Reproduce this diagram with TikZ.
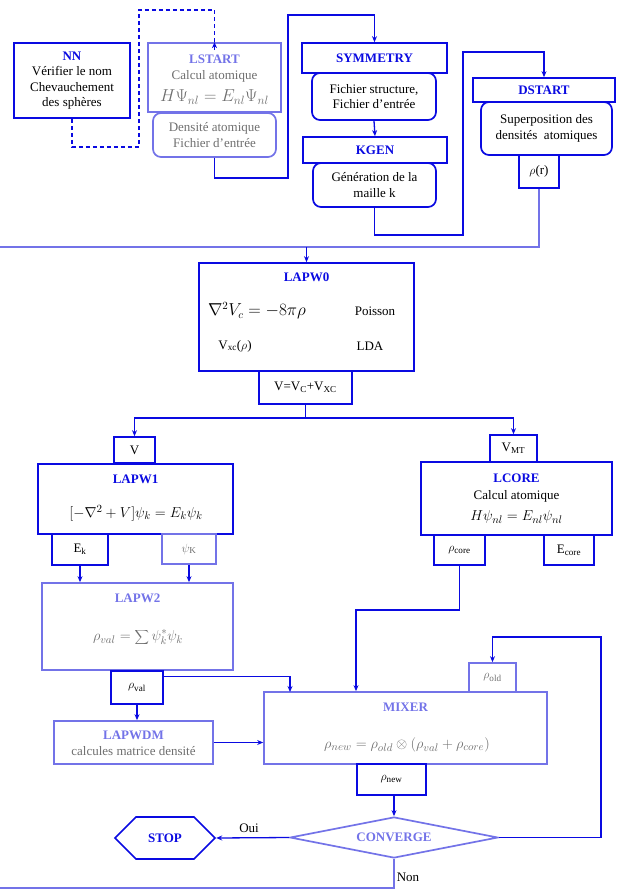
\documentclass[tikz,border=0pt]{standalone}
\usepackage{fontspec}
\setmainfont{Liberation Serif}
\usetikzlibrary{arrows.meta,shapes.geometric,shapes.symbols}

\definecolor{wienblue}{RGB}{10,10,225}
\definecolor{wienlight}{RGB}{115,115,232}
\definecolor{wiengray}{RGB}{110,110,110}

\tikzset{
  box/.style={draw=wienblue, line width=1.7pt, inner sep=0pt},
  lbox/.style={draw=wienlight, line width=1.7pt, inner sep=0pt},
  rbox/.style={box, rounded corners=8pt},
  lrbox/.style={lbox, rounded corners=8pt},
  title/.style={font=\bfseries, text=wienblue},
  ltitle/.style={font=\bfseries, text=wienlight},
  eqn/.style={font=\fontsize{15}{17}\selectfont},
  wire/.style={draw=wienblue, line width=1.3pt},
  lwire/.style={draw=wienlight, line width=1.6pt},
  flow/.style={wire, -{Stealth[length=6pt,width=5pt]}},
  dashwire/.style={wire, line width=1.4pt, dash pattern=on 4pt off 3pt}
}

\begin{document}
\fontsize{13}{15.5}\selectfont
\begin{tikzpicture}[x=1pt, y=-1pt]
        \useasboundingbox (0,0) rectangle (616,896);

        % Initialisation
        \node[box, minimum width=116pt, minimum height=75pt, align=center] (nn) at (72,80.5)
            {\textcolor{wienblue}{\textbf{NN}}\\Vérifier le nom\\Chevauchement\\des sphères};
        \node[lbox, minimum width=133pt, minimum height=69pt] (lstart) at (214.5,77.5) {};
        \node[ltitle] (lstartT) at (214.5,59) {LSTART};
        \node[text=wiengray] (lstartA) at (214.5,76) {Calcul atomique};
        \node[text=wiengray, font=\fontsize{17}{19}\selectfont] (lstartE) at (214.5,97) {$H\Psi_{nl} = E_{nl}\Psi_{nl}$};
        \node[lrbox, minimum width=123pt, minimum height=44pt, align=center, text=wiengray] (lstartsub) at (214.5,135)
            {Densité atomique\\Fichier d’entrée};

        \node[box, minimum width=145pt, minimum height=30pt, title] (sym) at (374.5,58) {SYMMETRY};
        \node[rbox, minimum width=124pt, minimum height=47pt, align=center] (symsub) at (374,96.5)
            {Fichier structure,\\Fichier d’entrée};
        \node[box, minimum width=144pt, minimum height=26pt, title] (kgen) at (375,150) {KGEN};
        \node[rbox, minimum width=123pt, minimum height=44pt, align=center] (kgensub) at (374.5,185)
            {Génération de la\\maille k};

        \node[box, minimum width=142pt, minimum height=24pt, title] (dstart) at (544,90) {DSTART};
        \node[rbox, minimum width=131pt, minimum height=53pt, align=center] (dstartsub) at (546.5,128.5)
            {Superposition des\\densités\ \ atomiques};
        \node[box, minimum width=40pt, minimum height=33pt] (rhor) at (539,171.5) {$\rho$(r)};

        % Potentiel
        \node[box, minimum width=215pt, minimum height=108pt] (lapw0) at (306.5,317) {};
        \node[title] (lapw0T) at (306.5,277) {LAPW0};
        \node[font=\fontsize{16}{18}\selectfont] (poisE) at (257,311) {$\nabla^2 V_c = -8\pi\rho$};
        \node (poisT) at (375,311) {Poisson};
        \node (vxc) at (235,346) {V$_\mathrm{xc}$($\rho$)};
        \node (lda) at (370,346) {LDA};
        \node[box, minimum width=93pt, minimum height=33pt] (vtot) at (305.5,387.5) {V=V$_\mathrm{C}$+V$_\mathrm{XC}$};

        % Valence et coeur
        \node[box, minimum width=41pt, minimum height=26pt] (v) at (134.5,450) {V};
        \node[box, minimum width=195pt, minimum height=70pt] (lapw1) at (135.5,499) {};
        \node[title] (lapw1T) at (135.5,479) {LAPW1};
        \node[eqn] (lapw1E) at (136,513) {$\bigl[-\nabla^2 + V\bigr]\psi_k = E_k\psi_k$};
        \node[box, minimum width=56pt, minimum height=31pt] (ek) at (80,549.5) {E$_\mathrm{k}$};
        \node[lbox, minimum width=54pt, minimum height=30pt, text=wiengray] (psik) at (189,549) {$\psi_\mathrm{K}$};

        \node[lbox, minimum width=191pt, minimum height=87pt] (lapw2) at (137.5,626.5) {};
        \node[ltitle] (lapw2T) at (137.5,598) {LAPW2};
        \node[eqn, text=wiengray] (lapw2E) at (138,637) {$\displaystyle\rho_{val} = \sum\psi_k^*\psi_k$};
        \node[box, minimum width=52pt, minimum height=33pt] (rhoval) at (137,687.5) {$\rho_\mathrm{val}$};
        \node[lbox, minimum width=159pt, minimum height=43pt] (lapwdm) at (133.5,742.5) {};
        \node[ltitle] (lapwdmT) at (133.5,735) {LAPWDM};
        \node[text=wiengray] (lapwdmA) at (133.5,751) {calcules matrice densité};

        \node[box, minimum width=47pt, minimum height=27pt] (vmt) at (513.5,448.5) {V$_\mathrm{MT}$};
        \node[box, minimum width=191pt, minimum height=73pt] (lcore) at (516.5,498.5) {};
        \node[title] (lcoreT) at (516.5,478) {LCORE};
        \node (lcoreA) at (516.5,496) {Calcul atomique};
        \node[eqn] (lcoreE) at (516.5,517) {$H\psi_{nl} = E_{nl}\psi_{nl}$};
        \node[box, minimum width=51pt, minimum height=30pt] (rhocore) at (459.5,550) {$\rho_\mathrm{core}$};
        \node[box, minimum width=50pt, minimum height=30pt] (ecore) at (569,550) {E$_\mathrm{core}$};

        % Melange et convergence
        \node[lbox, minimum width=283pt, minimum height=72pt] (mixer) at (405.5,728) {};
        \node[ltitle] (mixerT) at (405.5,707) {MIXER};
        \node[eqn, text=wiengray] (mixerE) at (407,745) {$\rho_{new} = \rho_{old}\otimes\bigl(\rho_{val} + \rho_{core}\bigr)$};
        \node[lbox, minimum width=47pt, minimum height=29pt, text=wiengray] (rhoold) at (492.5,677.5) {$\rho_\mathrm{old}$};
        \node[box, minimum width=69pt, minimum height=31pt] (rhonew) at (391.5,779.5) {$\rho_\mathrm{new}$};
        \node[lbox, diamond, aspect=5, minimum width=208pt, minimum height=41pt, ltitle] (conv) at (394,837.5) {CONVERGE};
        \node[box, signal, signal to=west and east, minimum width=100pt, minimum height=42pt, title] (stop) at (165,838) {STOP};

        % Points de passage
        \coordinate (d1) at (139,147);
        \coordinate (d2) at (139,10);
        \coordinate (w1) at (288,178);
        \coordinate (w2) at (288,15);
        \coordinate (w3) at (463,235);
        \coordinate (w4) at (463,52);
        \coordinate (w5) at (0,247);
        \coordinate (split) at (305.5,418);
        \coordinate (m1) at (290,692);
        \coordinate (w7) at (356,610);
        \coordinate (w8) at (601,637);
        \coordinate (w9) at (0,888);

        % Connexions
        \draw[dashwire] (nn.south) |- (d1) -- (d2) -| (lstart.north);
        \draw[dashwire, -{Stealth[length=6pt,width=5pt]}] ([yshift=-8pt]lstart.north) -- (lstart.north);
        \draw[flow] (lstartsub.south) |- (w1) -- (w2) -| (sym.north);
        \draw[flow] (symsub.south) -- (kgen.north);
        \draw[flow] (kgensub.south) |- (w3) -- (w4) -| (dstart.north);
        \draw[lwire] (rhor.south) |- (w5);
        \draw[flow] (lapw0.north |- w5) -- (lapw0.north);
        \draw[wire] (vtot.south) -- (split);
        \draw[flow] (split) -| (v.north);
        \draw[flow] (split) -| (vmt.north);
        \draw[flow] (ek.south) -- (ek.south |- lapw2.north);
        \draw[flow] (psik.south) -- (psik.south |- lapw2.north);
        \draw[flow] (rhoval.south) -- (rhoval.south |- lapwdm.north);
        \draw[flow] ([yshift=-6pt]rhoval.north east) -| (m1);
        \draw[flow] (lapwdm.east) -- (mixer.west |- lapwdm.east);
        \draw[flow] (rhocore.south) |- (w7) -- (w7 |- mixer.north);
        \draw[flow] (conv.north |- rhonew.south) -- (conv.north);
        \draw[flow] (conv.west) -- node[above, pos=0.55] (oui) {Oui} (stop.east);
        \draw[flow] (conv.east) -| (w8) -| (rhoold.north);
        \draw[lwire] (conv.south) |- (w9);
        \node (non) at (408,877) {Non};

    \end{tikzpicture}
\end{document}
